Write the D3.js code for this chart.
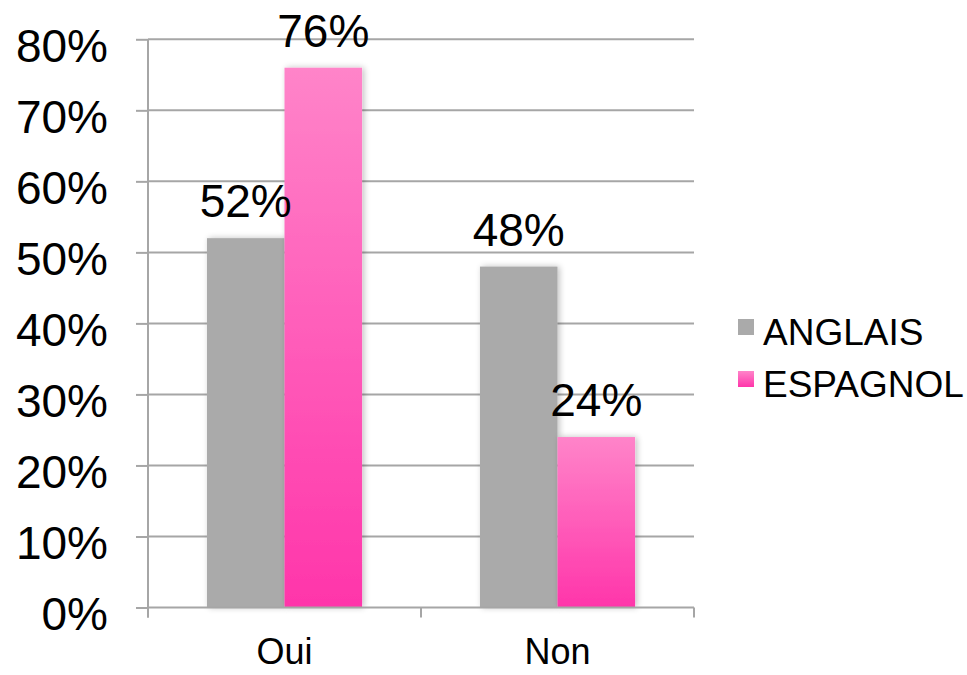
<!DOCTYPE html>
<html><head><meta charset="utf-8">
<script src="https://cdn.jsdelivr.net/npm/d3@7"></script>
<style>body{margin:0;background:#fff}svg{display:block}text{font-family:"Liberation Sans",Arial,Helvetica,sans-serif;fill:#000}</style>
</head><body><svg id="c" width="967" height="675"></svg>
<script>
const categories = ["Oui", "Non"];
const seriesNames = ["ANGLAIS", "ESPAGNOL"];
const anglais = [52, 48];
const espagnol = [76, 24];
const yTicks = [0, 10, 20, 30, 40, 50, 60, 70, 80];

const svg = d3.select("#c");
const m = {l: 148, r: 694, t: 39.3, b: 607.5};
const x = d3.scaleBand().domain(categories).range([m.l, m.r]).paddingInner(0).paddingOuter(0);
const x1 = d3.scaleBand().domain(seriesNames).range([0, x.bandwidth()]).paddingInner(0).paddingOuter(0.76);
const y = d3.scaleLinear().domain([0, 80]).range([m.b, m.t]);

const defs = svg.append("defs");
const g = defs.append("linearGradient").attr("id", "pink").attr("x1", 0).attr("y1", 0).attr("x2", 0).attr("y2", 1);
g.append("stop").attr("offset", "0%").attr("stop-color", "#ff84c9");
g.append("stop").attr("offset", "100%").attr("stop-color", "#ff35aa");
const gl = defs.append("linearGradient").attr("id", "pinkL").attr("x1", 0).attr("y1", 0).attr("x2", 0).attr("y2", 1);
gl.append("stop").attr("offset", "0%").attr("stop-color", "#ff84c9");
gl.append("stop").attr("offset", "100%").attr("stop-color", "#ff35aa");
const f = defs.append("filter").attr("id", "sh").attr("x", "-20%").attr("y", "-20%").attr("width", "150%").attr("height", "140%");
f.append("feGaussianBlur").attr("in", "SourceAlpha").attr("stdDeviation", 3).attr("result", "b");
f.append("feOffset").attr("in", "b").attr("dx", 2).attr("dy", 0).attr("result", "o");
f.append("feComponentTransfer").attr("in", "o").attr("result", "o2").append("feFuncA").attr("type", "linear").attr("slope", 0.25);
const fm = f.append("feMerge");
fm.append("feMergeNode").attr("in", "o2");
fm.append("feMergeNode").attr("in", "SourceGraphic");

// gridlines
svg.append("g").selectAll("line").data(yTicks.slice(1)).join("line")
  .attr("x1", m.l).attr("x2", m.r).attr("y1", d => y(d)).attr("y2", d => y(d))
  .attr("stroke", "#a6a6a6").attr("stroke-width", 2);

// y axis
const yAxis = d3.axisLeft(y).tickValues(yTicks).tickFormat(d => d + "%").tickSize(12).tickPadding(28);
const ya = svg.append("g").attr("transform", `translate(${m.l},0)`).call(yAxis);
ya.select(".domain").remove();
ya.selectAll(".tick line").attr("stroke", "#a6a6a6").attr("stroke-width", 2);
ya.selectAll(".tick text").attr("font-size", 46).attr("dy", "0.48em").attr("font-family", "Liberation Sans, Arial, sans-serif");

// bars
const data = categories.map((c, i) => ({c, vals: [{s: seriesNames[0], v: anglais[i]}, {s: seriesNames[1], v: espagnol[i]}]}));
const bars = svg.append("g").selectAll("g").data(data).join("g").attr("transform", d => `translate(${x(d.c)},0)`);
bars.selectAll("rect").data(d => d.vals).join("rect")
  .attr("x", d => x1(d.s)).attr("width", x1.bandwidth())
  .attr("y", d => y(d.v)).attr("height", d => y(0) - y(d.v))
  .attr("fill", d => d.s === "ANGLAIS" ? "#aaaaaa" : "url(#pink)")
  .attr("filter", "url(#sh)");
bars.selectAll("text").data(d => d.vals).join("text")
  .attr("x", d => x1(d.s) + x1.bandwidth() / 2).attr("y", d => y(d.v) - 21)
  .attr("text-anchor", "middle").attr("font-size", 46).text(d => d.v + "%");

// x axis baseline + y axis line
svg.append("line").attr("x1", m.l).attr("x2", m.l).attr("y1", m.t).attr("y2", m.b + 10).attr("stroke", "#a6a6a6").attr("stroke-width", 2);
const xAxis = d3.axisBottom(x).tickSize(0).tickPadding(40);
const xa = svg.append("g").attr("transform", `translate(0,${m.b})`).call(xAxis);
xa.select(".domain").attr("stroke", "#a6a6a6").attr("stroke-width", 2).attr("d", `M${m.l},0H${m.r}`);
xa.selectAll(".tick text").attr("font-size", 36).attr("font-family", "Liberation Sans, Arial, sans-serif").attr("dy", "0.71em").attr("y", 31);
svg.append("g").selectAll("line").data([m.l, x("Non"), m.r]).join("line")
  .attr("x1", d => d).attr("x2", d => d).attr("y1", m.b).attr("y2", m.b + 10)
  .attr("stroke", "#a6a6a6").attr("stroke-width", 2);

// legend
const lg = svg.append("g").selectAll("g").data(seriesNames).join("g")
  .attr("transform", (d, i) => `translate(738,${319 + i * 52})`);
lg.append("rect").attr("width", 16).attr("height", 16).attr("fill", d => d === "ANGLAIS" ? "#aaaaaa" : "url(#pinkL)");
lg.append("text").attr("x", 25).attr("y", 26).attr("font-size", 37).text(d => d);
</script></body></html>
